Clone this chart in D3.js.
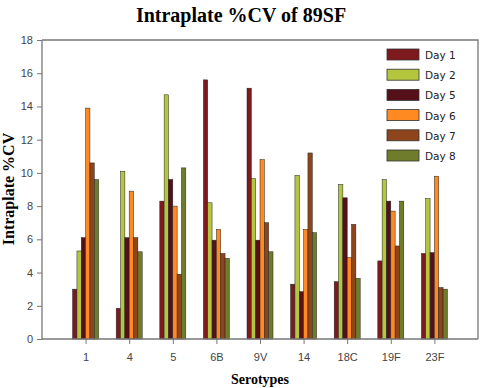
<!DOCTYPE html>
<html lang="en">
<head>
  <meta charset="UTF-8">
  <title>Intraplate %CV of 89SF</title>
  <script src="https://d3js.org/d3.v7.min.js"></script>
  <style>
    body { margin: 0; background: #fff; }
  </style>
</head>
<body>
  <div id="chart"></div>

  <script>
    // Data
    const serotypes = ["1", "4", "5", "6B", "9V", "14", "18C", "19F", "23F"];
    const days = ["Day 1", "Day 2", "Day 5", "Day 6", "Day 7", "Day 8"];
    const day1 = [3.0, 1.85, 8.3, 15.6, 15.1, 3.3, 3.45, 4.7, 5.15];
    const day2 = [5.3, 10.1, 14.7, 8.2, 9.65, 9.85, 9.3, 9.6, 8.45];
    const day5 = [6.1, 6.1, 9.6, 5.95, 5.95, 2.85, 8.5, 8.3, 5.2];
    const day6 = [13.9, 8.9, 8.0, 6.6, 10.8, 6.6, 4.9, 7.7, 9.8];
    const day7 = [10.6, 6.1, 3.9, 5.15, 7.0, 11.2, 6.9, 5.6, 3.1];
    const day8 = [9.6, 5.25, 10.3, 4.85, 5.25, 6.4, 3.65, 8.3, 3.0];
    const series = [day1, day2, day5, day6, day7, day8];
    const colors = ["#7e1a1e", "#b3c63e", "#56101a", "#ff8a22", "#8e451c", "#6f7d2a"];
    const yTicks = [0, 2, 4, 6, 8, 10, 12, 14, 16, 18];

    const width = 482, height = 388;
    const mLeft = 42, mRight = 478, mTop = 40, mBottom = 339;

    const svg = d3.select("#chart").append("svg")
        .attr("width", width)
        .attr("height", height);

    const x = d3.scaleLinear().domain([0, serotypes.length + 1]).range([mLeft, mRight]);
    const y = d3.scaleLinear().domain([0, 18]).range([mBottom, mTop]);
    const inner = d3.scaleBand().domain(days).range([-13, 13]);

    // bars
    days.forEach((day, j) => {
      svg.append("g")
        .selectAll("rect")
        .data(series[j])
        .join("rect")
          .attr("x", (d, i) => x(i + 1) + inner(day))
          .attr("y", d => y(d))
          .attr("width", inner.bandwidth())
          .attr("height", d => y(0) - y(d))
          .attr("fill", colors[j])
          .attr("stroke", "#222")
          .attr("stroke-width", 0.5);
    });

    // frame
    svg.append("path")
        .attr("d", `M${mLeft},${mTop}H${mRight}V${mBottom}`)
        .attr("fill", "none")
        .attr("stroke", "#777")
        .attr("stroke-width", 1.3);

    // axes
    const yAxis = svg.append("g")
        .attr("transform", `translate(${mLeft},0)`)
        .call(d3.axisLeft(y).tickValues(yTicks).tickSize(5).tickPadding(4));
    const xAxis = svg.append("g")
        .attr("transform", `translate(0,${mBottom})`)
        .call(d3.axisBottom(x).tickValues(d3.range(1, serotypes.length + 1))
          .tickFormat(i => serotypes[i - 1]).tickSize(5).tickPadding(9)
          .tickSizeOuter(0));
    [yAxis, xAxis].forEach(a => {
      a.select(".domain").attr("stroke", "#777").attr("stroke-width", 1.3);
      a.selectAll(".tick line").attr("stroke", "#777");
      a.selectAll("text")
        .attr("fill", "#444")
        .style("font-family", "Liberation Sans, Arial, sans-serif")
        .style("font-size", "11px");
    });
    yAxis.select(".domain").attr("d", `M0,${mTop}V${mBottom}`);
    xAxis.select(".domain").attr("d", `M${mLeft},0H${mRight}`);

    // titles
    svg.append("text")
        .attr("x", 241)
        .attr("y", 22)
        .attr("text-anchor", "middle")
        .style("font-family", "Liberation Serif, Times New Roman, serif")
        .style("font-weight", "bold")
        .style("font-size", "20px")
        .text("Intraplate %CV of 89SF");

    svg.append("text")
        .attr("transform", "translate(14,189) rotate(-90)")
        .attr("text-anchor", "middle")
        .style("font-family", "Liberation Serif, Times New Roman, serif")
        .style("font-weight", "bold")
        .style("font-size", "16px")
        .text("Intraplate %CV");

    svg.append("text")
        .attr("x", 260)
        .attr("y", 384)
        .attr("text-anchor", "middle")
        .style("font-family", "Liberation Serif, Times New Roman, serif")
        .style("font-weight", "bold")
        .style("font-size", "14px")
        .text("Serotypes");

    // legend
    const legend = svg.append("g")
      .selectAll("g")
      .data(days)
      .join("g")
        .attr("transform", (d, i) => `translate(387,${49 + i * 20.2})`);
    legend.append("rect")
        .attr("width", 32)
        .attr("height", 11)
        .attr("fill", (d, i) => colors[i])
        .attr("stroke", "#333")
        .attr("stroke-width", 0.8);
    legend.append("text")
        .attr("x", 38)
        .attr("y", 10)
        .style("font-family", "DejaVu Sans, Verdana, sans-serif")
        .style("font-size", "10.5px")
        .attr("fill", "#222")
        .text(d => d);
  </script>
</body>
</html>
